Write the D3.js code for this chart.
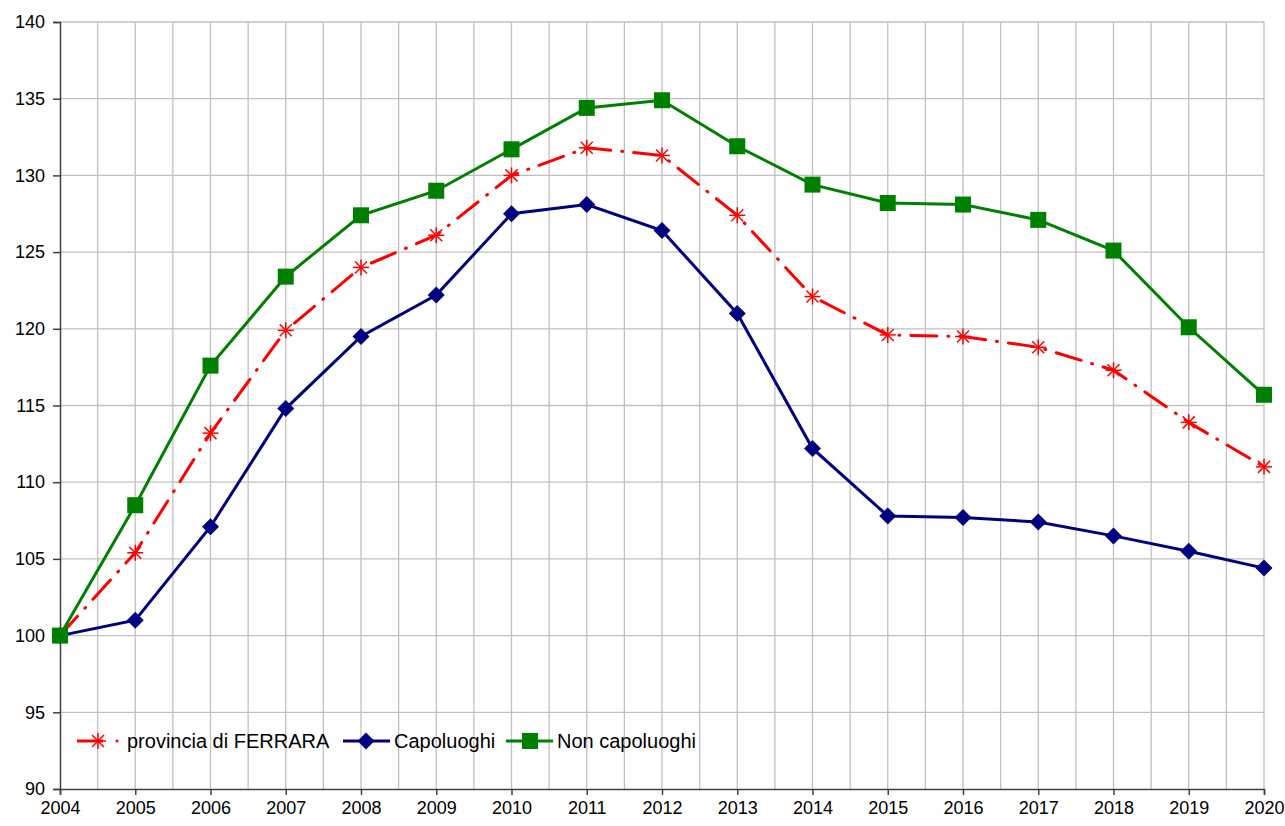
<!DOCTYPE html>
<html>
<head>
<meta charset="utf-8">
<script src="https://cdn.jsdelivr.net/npm/d3@7"></script>
<style>
body { margin: 0; background: #fff; }
svg { display: block; }
</style>
</head>
<body>
<div id="chart"></div>
<script>
var years = [2004, 2005, 2006, 2007, 2008, 2009, 2010, 2011, 2012, 2013, 2014, 2015, 2016, 2017, 2018, 2019, 2020];
var provincia = [100, 105.4, 113.2, 119.9, 124.0, 126.1, 130.0, 131.8, 131.3, 127.4, 122.1, 119.6, 119.5, 118.8, 117.3, 113.9, 111.0];
var capoluoghi = [100, 101.0, 107.1, 114.8, 119.5, 122.2, 127.5, 128.1, 126.4, 121.0, 112.2, 107.8, 107.7, 107.4, 106.5, 105.5, 104.4];
var nonCapoluoghi = [100, 108.5, 117.6, 123.4, 127.4, 129.0, 131.7, 134.4, 134.9, 131.9, 129.4, 128.2, 128.1, 127.1, 125.1, 120.1, 115.7];
var yTicks = [90, 95, 100, 105, 110, 115, 120, 125, 130, 135, 140];
var seriesNames = ["provincia di FERRARA", "Capoluoghi", "Non capoluoghi"];

var W = 1285, H = 826;
var margin = {left: 60, right: 21, top: 22, bottom: 37};

var svg = d3.select("#chart").append("svg")
	.attr("width", W)
	.attr("height", H)
	.style("font-family", "'Liberation Sans', Arial, sans-serif");

var x = d3.scaleLinear().domain([2004, 2020]).range([margin.left, W - margin.right]);
var y = d3.scaleLinear().domain([90, 140]).range([H - margin.bottom, margin.top]);

// grid: vertical every half year, horizontal every 5
var halfYears = d3.range(2004.5, 2020.5, 0.5);
svg.append("g").selectAll("line")
	.data(halfYears)
	.enter().append("line")
	.attr("x1", function(d) { return x(d); })
	.attr("x2", function(d) { return x(d); })
	.attr("y1", y(90))
	.attr("y2", y(140))
	.style("stroke", "#c0c0c0")
	.style("stroke-width", 1.3);

svg.append("g").selectAll("line")
	.data(yTicks.slice(1))
	.enter().append("line")
	.attr("x1", x(2004))
	.attr("x2", x(2020))
	.attr("y1", function(d) { return y(d); })
	.attr("y2", function(d) { return y(d); })
	.style("stroke", "#c0c0c0")
	.style("stroke-width", 1.3);

// axes
var yAxis = svg.append("g")
	.attr("transform", "translate(" + x(2004) + ",0)")
	.call(d3.axisLeft(y).tickValues(yTicks).tickSize(7).tickPadding(8));
var xAxis = svg.append("g")
	.attr("transform", "translate(0," + y(90) + ")")
	.call(d3.axisBottom(x).tickValues(years).tickFormat(d3.format("d")).tickSize(6).tickPadding(6));

[yAxis, xAxis].forEach(function(a) {
	a.select(".domain").style("stroke", "#404040").style("stroke-width", 1.5);
	a.selectAll(".tick line").style("stroke", "#404040").style("stroke-width", 1.5);
	a.selectAll("text")
		.style("font-family", "'Liberation Sans', Arial, sans-serif")
		.style("font-size", "18px")
		.style("fill", "#000");
});

var line = d3.line()
	.x(function(d, i) { return x(years[i]); })
	.y(function(d) { return y(d); });

function asterisk(g, cx, cy, r) {
	var a = g.append("g").attr("transform", "translate(" + cx + "," + cy + ")");
	[[-r, 0, r, 0], [-r * 0.75, -r * 0.75, r * 0.75, r * 0.75], [-r * 0.75, r * 0.75, r * 0.75, -r * 0.75], [0, -r, 0, r]].forEach(function(s) {
		a.append("line")
			.attr("x1", s[0]).attr("y1", s[1]).attr("x2", s[2]).attr("y2", s[3])
			.style("stroke", "#ff0000").style("stroke-width", 1.5);
	});
}
function diamond(g, cx, cy, r) {
	g.append("path")
		.attr("d", "M" + cx + "," + (cy - r) + "L" + (cx + r) + "," + cy + "L" + cx + "," + (cy + r) + "L" + (cx - r) + "," + cy + "Z")
		.style("fill", "#000080");
}
function square(g, cx, cy, r) {
	g.append("rect")
		.attr("x", cx - r).attr("y", cy - r)
		.attr("width", 2 * r).attr("height", 2 * r)
		.style("fill", "#008000");
}

// provincia
var gP = svg.append("g");
gP.append("path")
	.datum(provincia)
	.attr("d", line)
	.style("fill", "none")
	.style("stroke", "#ff0000")
	.style("stroke-width", 3)
	.style("stroke-linecap", "round")
	.style("stroke-dasharray", "26,11,1,11");
provincia.forEach(function(v, i) { asterisk(gP, x(years[i]), y(v), 8); });

// capoluoghi
var gC = svg.append("g");
gC.append("path")
	.datum(capoluoghi)
	.attr("d", line)
	.style("fill", "none")
	.style("stroke", "#000080")
	.style("stroke-width", 3);
capoluoghi.forEach(function(v, i) { diamond(gC, x(years[i]), y(v), 8.5); });

// non capoluoghi
var gN = svg.append("g");
gN.append("path")
	.datum(nonCapoluoghi)
	.attr("d", line)
	.style("fill", "none")
	.style("stroke", "#008000")
	.style("stroke-width", 3);
nonCapoluoghi.forEach(function(v, i) { square(gN, x(years[i]), y(v), 8); });

// legend
var ly = 741;
var leg = svg.append("g");
leg.append("line").attr("x1", 77).attr("x2", 108).attr("y1", ly).attr("y2", ly)
	.style("stroke", "#ff0000").style("stroke-width", 3).style("stroke-dasharray", "26,11,1,11");
leg.append("circle").attr("cx", 117).attr("cy", ly).attr("r", 1.5).style("fill", "#ff0000");
asterisk(leg, 98, ly, 8);
leg.append("text").attr("x", 127).attr("y", ly + 7).text(seriesNames[0]);

leg.append("line").attr("x1", 343).attr("x2", 390).attr("y1", ly).attr("y2", ly)
	.style("stroke", "#000080").style("stroke-width", 3);
diamond(leg, 366, ly, 8.5);
leg.append("text").attr("x", 394).attr("y", ly + 7).text(seriesNames[1]);

leg.append("line").attr("x1", 506).attr("x2", 553).attr("y1", ly).attr("y2", ly)
	.style("stroke", "#008000").style("stroke-width", 3);
square(leg, 530, ly, 8);
leg.append("text").attr("x", 557).attr("y", ly + 7).text(seriesNames[2]);

leg.selectAll("text")
	.style("font-size", "20px")
	.style("fill", "#000");
</script>
</body>
</html>
